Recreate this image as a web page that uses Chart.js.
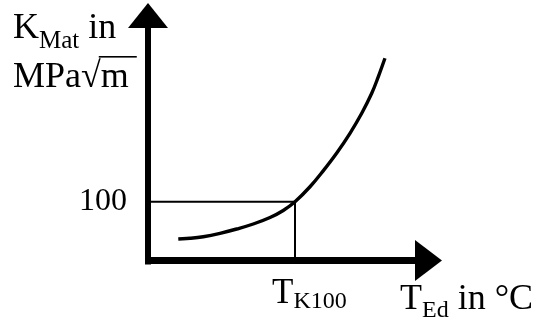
<!DOCTYPE html>
<html>
<head>
<meta charset="utf-8">
<script src="https://cdn.jsdelivr.net/npm/chart.js@4"></script>
<style>
html,body{margin:0;padding:0;background:#fff;}
#wrap{width:538px;height:326px;position:relative;}
</style>
</head>
<body>
<div id="wrap"><canvas id="c" width="538" height="326"></canvas></div>
<script>
// Schematic data (arbitrary units)
const curveT = [20.6, 28.6, 37.6, 49.0, 60.3, 71.6, 83.0, 92.0, 100, 110.2, 119.3, 128.4, 137.4, 145.4, 152.2, 156.7, 161.2];
const curveK = [36.6, 37.8, 40.5, 46.3, 53.6, 62.1, 73.2, 85.2, 100, 125.5, 153.0, 183.0, 216.5, 250.6, 284.6, 313.0, 344.2];
const refT = 100;   // T_K100
const refK = 100;   // K_Mat = 100
const xRange = [0, 200];
const yRange = [0, 440];
const yTickLabel = '100';

const FONT = '"Liberation Serif", "Times New Roman", serif';

function drawSub(ctx, x, y, main, sub, rest, size, subSize, subDrop) {
  ctx.font = size + 'px ' + FONT;
  ctx.fillText(main, x, y);
  x += ctx.measureText(main).width;
  ctx.font = subSize + 'px ' + FONT;
  ctx.fillText(sub, x, y + subDrop);
  x += ctx.measureText(sub).width;
  if (rest) {
    ctx.font = size + 'px ' + FONT;
    ctx.fillText(rest, x, y);
    x += ctx.measureText(rest).width;
  }
  return x;
}

const axesPlugin = {
  id: 'axesArrows',
  afterDatasetsDraw(chart) {
    const ctx = chart.ctx;
    const xs = chart.scales.x, ys = chart.scales.y;
    const x0 = xs.getPixelForValue(xRange[0]);
    const xEnd = xs.getPixelForValue(xRange[1]);
    const y0 = ys.getPixelForValue(yRange[0]);
    const yTop = ys.getPixelForValue(yRange[1]);
    ctx.save();
    ctx.fillStyle = '#000';
    // y axis shaft + arrow
    ctx.fillRect(x0 - 3, yTop + 24, 6, (y0 + 4) - (yTop + 24));
    ctx.beginPath();
    ctx.moveTo(x0, yTop + 1);
    ctx.lineTo(x0 - 20, yTop + 26);
    ctx.lineTo(x0 + 20, yTop + 26);
    ctx.closePath();
    ctx.fill();
    // x axis shaft + arrow
    ctx.fillRect(x0 - 3, y0 - 3.5, (xEnd - 25) - (x0 - 3), 7);
    ctx.beginPath();
    ctx.moveTo(xEnd, y0);
    ctx.lineTo(xEnd - 27, y0 - 20.5);
    ctx.lineTo(xEnd - 27, y0 + 20.5);
    ctx.closePath();
    ctx.fill();

    // labels
    ctx.textBaseline = 'alphabetic';
    ctx.textAlign = 'right';
    ctx.font = '32px ' + FONT;
    const y100 = ys.getPixelForValue(refK);
    ctx.fillText(yTickLabel, x0 - 21, y100 + 8);

    ctx.textAlign = 'left';
    const tx = xs.getPixelForValue(refT);
    drawSub(ctx, tx - 23, y0 + 42.5, 'T', 'K100', '', 35, 24, 5);

    // x axis title
    drawSub(ctx, xEnd - 42, y0 + 48.5, 'T', 'Ed', ' in °C', 36, 24, 8);

    // y axis title
    drawSub(ctx, 13, 38, 'K', 'Mat', ' in', 36, 25, 10);
    ctx.font = '36px ' + FONT;
    let x = 13;
    ctx.fillText('MPa', x, 87);
    x += ctx.measureText('MPa').width;
    ctx.fillText('√', x, 87);
    const sqW = ctx.measureText('√').width;
    x += sqW;
    ctx.fillText('m', x, 87);
    const mW = ctx.measureText('m').width;
    ctx.fillRect(x - 2, 56, mW + 10, 1.6);
    ctx.restore();
  }
};

new Chart(document.getElementById('c'), {
  type: 'line',
  data: {
    datasets: [
      {
        data: curveT.map((t, i) => ({x: t, y: curveK[i]})),
        borderColor: '#000',
        borderWidth: 3.4,
        pointRadius: 0,
        tension: 0.4,
        fill: false
      },
      {
        data: [{x: xRange[0], y: refK}, {x: refT, y: refK}, {x: refT, y: yRange[0]}],
        borderColor: '#000',
        borderWidth: 2,
        pointRadius: 0,
        tension: 0,
        fill: false
      }
    ]
  },
  options: {
    responsive: false,
    animation: false,
    devicePixelRatio: 1,
    layout: {padding: {left: 148, right: 96, top: 2, bottom: 65.5}},
    plugins: {legend: {display: false}, tooltip: {enabled: false}},
    scales: {
      x: {type: 'linear', min: xRange[0], max: xRange[1], display: false},
      y: {type: 'linear', min: yRange[0], max: yRange[1], display: false}
    }
  },
  plugins: [axesPlugin]
});
</script>
</body>
</html>
